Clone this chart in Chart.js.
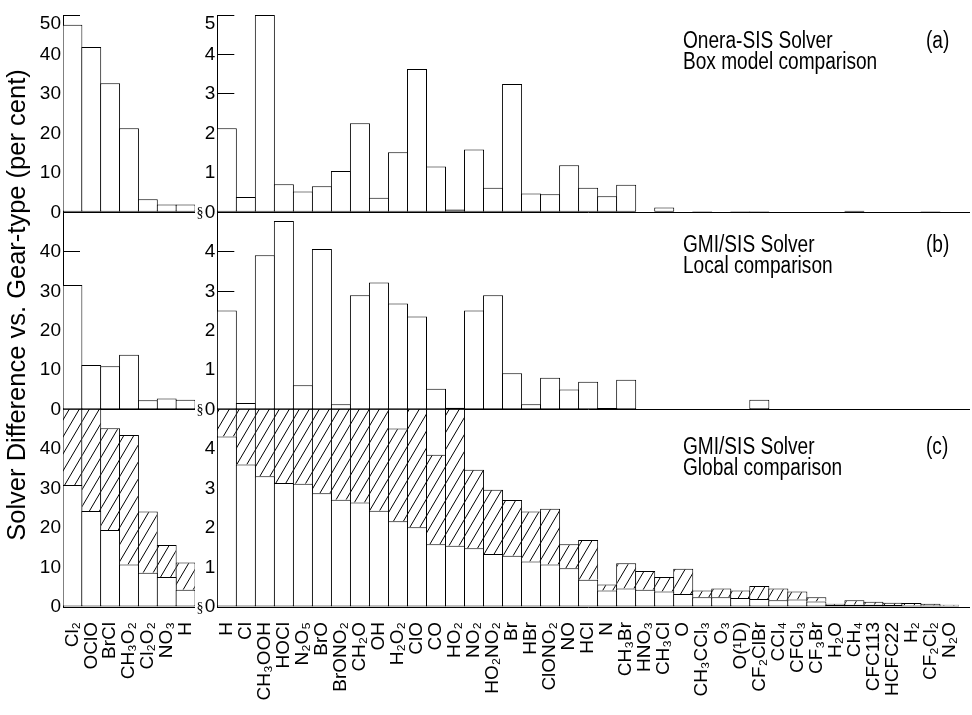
<!DOCTYPE html>
<html>
<head>
<meta charset="utf-8">
<script src="https://cdn.jsdelivr.net/npm/chart.js@4.4.1/dist/chart.umd.min.js"></script>
<style>
  html,body{margin:0;padding:0;background:#fff;}
  body{width:972px;height:715px;position:relative;overflow:hidden;font-family:'Liberation Sans',Arial,sans-serif;color:#000;}
  canvas{position:absolute;top:0;}
  #cLeft{left:0;}
  #cRight{left:190px;}
  .ann{position:absolute;font-family:'Liberation Sans',Arial,sans-serif;font-size:23px;line-height:21px;white-space:nowrap;transform:scaleX(0.83);transform-origin:0 0;}
  #ytitle{position:absolute;width:600px;height:28px;left:-284px;top:290.5px;font-size:25.5px;line-height:28px;text-align:center;white-space:nowrap;transform:rotate(-90deg);transform-origin:50% 50%;}
</style>
</head>
<body>
<canvas id="cLeft" width="200" height="715"></canvas>
<canvas id="cRight" width="782" height="715"></canvas>
<div id="ytitle"></div>
<div id="anns"></div>
<script>
// ---------------- DATA ----------------
const leftSpecies = ['Cl₂','OClO','BrCl','CH₃O₂','Cl₂O₂','NO₃','H'];
const rightSpecies = ['H','Cl','CH₃OOH','HOCl','N₂O₅','BrO','BrONO₂','CH₂O','OH','H₂O₂','ClO','CO','HO₂','NO₂','HO₂NO₂','Br','HBr','ClONO₂','NO','HCl','N','CH₃Br','HNO₃','CH₃Cl','O','CH₃CCl₃','O₃','O(¹D)','CF₂ClBr','CCl₄','CFCl₃','CF₃Br','H₂O','CH₄','CFC113','HCFC22','H₂','CF₂Cl₂','N₂O'];

// (a) Onera-SIS solver, box model comparison
const leftBoxModel  = [47.5, 41.9, 32.7, 21.3, 3.3, 2.0, 2.0];
const rightBoxModel = [2.13,0.39,5.0,0.71,0.53,0.66,1.05,2.26,0.37,1.52,3.63,1.16,0.07,1.59,0.62,3.25,0.48,0.46,1.19,0.62,0.41,0.70,0,0.12,0,0.03,0,0.03,0.03,0,0,0,0,0.04,0,0,0,0.03,0];

// (b) GMI/SIS solver, local comparison
const leftLocal  = [31.6, 11.3, 11.0, 13.9, 2.4, 2.8, 2.5];
const rightLocal = [2.51,0.17,3.91,4.78,0.62,4.07,0.14,2.90,3.22,2.69,2.36,0.53,0.05,2.51,2.90,0.92,0.14,0.81,0.51,0.71,0.04,0.76,0,0,0,0,0,0.02,0.25,0,0,0,0,0,0,0,0,0,0];

// (c) GMI/SIS solver, global comparison (open part, hatched top, extra open box)
const leftGlobalLow   = [30.9, 24.3, 19.5, 10.8, 8.7, 7.6, 4.4];
const leftGlobalHigh  = [56, 54, 45.3, 43.6, 24.2, 15.7, 11.3];
const rightGlobalLow  = [4.32,3.61,3.31,3.14,3.12,2.88,2.72,2.65,2.44,2.17,2.02,1.59,1.55,1.49,1.34,1.30,1.15,1.08,0.98,0.69,0.42,0.47,0.44,0.39,0.33,0.25,0.25,0.23,0.20,0.17,0.19,0.14,0.05,0.06,0.06,0.05,0.04,0.04,0.03];
const rightGlobalHigh = [6.0,5.8,5.7,5.6,5.5,5.5,5.4,5.4,5.3,4.52,5.3,3.86,5.2,3.48,2.97,2.71,2.42,2.49,1.59,1.70,0.57,1.11,0.91,0.76,0.97,0.42,0.47,0.42,0.53,0.47,0.39,0.25,0.08,0.17,0.13,0.11,0.10,0.08,0.06];
const rightGlobalOuter = [null,null,null,null,null,null,null,null,null,5.3,null,5.3,null,null,null,null,null,null,null,null,null,null,null,null,null,null,null,null,null,null,null,null,null,null,null,null,null,null,null];

const leftTicks  = [0, 10, 20, 30, 40, 50];
const rightTicks = [0, 1, 2, 3, 4, 5];

const yTitle = 'Solver Difference vs. Gear-type (per cent)';
const panelTitles = [['Onera-SIS Solver','Box model comparison'],['GMI/SIS Solver','Local comparison'],['GMI/SIS Solver','Global comparison']];
const panelTags = ['(a)','(b)','(c)'];

// ---------------- RENDER ----------------
Chart.defaults.color = '#000';
Chart.defaults.font.family = "'Liberation Sans', Arial, sans-serif";

document.getElementById('ytitle').textContent = yTitle;
const annTops = [30, 234, 436];
const anns = document.getElementById('anns');
panelTitles.forEach((lines, i) => {
  const d = document.createElement('div');
  d.className = 'ann';
  d.style.left = '683px'; d.style.top = annTops[i] + 'px';
  d.innerHTML = lines.join('<br>');
  anns.appendChild(d);
  const t = document.createElement('div');
  t.className = 'ann';
  t.style.left = '926px'; t.style.top = annTops[i] + 'px';
  t.textContent = panelTags[i];
  anns.appendChild(t);
});

function makeHatch(ctx) {
  const c = document.createElement('canvas');
  c.width = 10; c.height = 17;
  const g = c.getContext('2d');
  g.fillStyle = '#fff'; g.fillRect(0, 0, 10, 17);
  g.strokeStyle = '#000'; g.lineWidth = 1;
  g.beginPath();
  g.moveTo(0, 17); g.lineTo(10, 0);
  g.moveTo(-10, 17); g.lineTo(0, 0);
  g.moveTo(10, 17); g.lineTo(20, 0);
  g.stroke();
  return ctx.createPattern(c, 'repeat');
}

const panelClip = {
  id: 'panelClip',
  beforeDatasetDraw(chart, args) {
    const s = chart.scales[args.meta.yAxisID];
    const a = chart.chartArea;
    const ctx = chart.ctx;
    ctx.save();
    ctx.beginPath();
    ctx.rect(a.left - 2, s.top - 0.5, a.right - a.left + 4, s.bottom - s.top + 1);
    ctx.clip();
  },
  afterDatasetDraw(chart) { chart.ctx.restore(); }
};

function breakMarks(show) {
  return {
    id: 'breakMarks',
    afterDraw(chart) {
      if (!show) return;
      const ctx = chart.ctx;
      const a = chart.chartArea;
      ctx.save();
      ctx.fillStyle = '#000';
      ctx.strokeStyle = '#000';
      ctx.lineWidth = 1;
      ctx.font = "14px 'Liberation Serif', serif";
      ctx.textAlign = 'center';
      ctx.textBaseline = 'middle';
      ['ya', 'yb', 'yc'].forEach(id => {
        const s = chart.scales[id];
        const y0 = s.getPixelForValue(0);
        ctx.fillText('§', s.left + 10, y0 + 1);
        // zero line continues a little past the last bar, as in the figure
        const yy = Math.round(y0 - 0.5) + 0.5;
        ctx.beginPath();
        ctx.moveTo(a.right, yy);
        ctx.lineTo(chart.width - 2, yy);
        ctx.stroke();
      });
      ctx.restore();
    }
  };
}

function noPad(s) { s.paddingLeft = 0; s.paddingRight = 0; s.paddingTop = 0; s.paddingBottom = 0; }

function yAxis(weight, max, tickVals, showTop, width) {
  return {
    type: 'linear', position: 'left', stack: 'panels', stackWeight: 1, weight: weight, z: 1,
    min: 0, max: max,
    afterBuildTicks(s) { s.ticks = tickVals.map(v => ({value: v})); },
    afterFit(s) { s.width = width; noPad(s); },
    border: {display: true, color: '#000', width: 1},
    grid: {
      drawOnChartArea: true, drawTicks: true, tickLength: -17, tickWidth: 1, tickColor: '#000', lineWidth: 1,
      color: c => (c.tick && c.tick.value === 0) ? '#000' : 'rgba(0,0,0,0)'
    },
    ticks: {autoSkip: false, padding: 19, font: {size: 19, lineHeight: 0.9}, color: '#000',
      callback: v => (v === max) ? (showTop ? ['', String(v)] : '') : String(v)}
  };
}

function buildChart(id, labels, a, b, cLow, cHigh, cOuter, ticks, axisWidth, padRight, showBreaks) {
  const canvas = document.getElementById(id);
  const ctx = canvas.getContext('2d');
  const hatch = makeHatch(ctx);
  const max = ticks[ticks.length - 1];
  const base = {borderColor: '#000', borderSkipped: false, grouped: false, barPercentage: 1.053, categoryPercentage: 1};
  const datasets = [
    Object.assign({}, base, {label: 'a', data: a, yAxisID: 'ya', backgroundColor: '#fff', borderWidth: 1}),
    Object.assign({}, base, {label: 'b', data: b, yAxisID: 'yb', backgroundColor: '#fff', borderWidth: 1}),
    Object.assign({}, base, {label: 'c-low', data: cLow.map(v => [0, v]), yAxisID: 'yc', backgroundColor: '#fff', borderWidth: 1}),
    Object.assign({}, base, {label: 'c-high', data: cHigh.map((v, i) => [cLow[i], v]), yAxisID: 'yc', backgroundColor: hatch,
      borderWidth: {top: 1, left: 1, right: 1, bottom: 0}})
  ];
  if (cOuter) {
    datasets.push(Object.assign({}, base, {label: 'c-outer', data: cOuter.map((v, i) => v == null ? null : [cHigh[i], v]),
      yAxisID: 'yc', backgroundColor: '#fff', borderWidth: {top: 1, left: 1, right: 1, bottom: 0}}));
  }
  return new Chart(ctx, {
    type: 'bar',
    data: {labels: labels, datasets: datasets},
    options: {
      responsive: false, animation: false, devicePixelRatio: 1,
      layout: {padding: {top: 15, right: padRight, left: 0, bottom: 0}, autoPadding: false},
      plugins: {legend: {display: false}, tooltip: {enabled: false}},
      scales: {
        x: {
          type: 'category', position: 'bottom', offset: true,
          afterFit(s) { s.height = 108; noPad(s); },
          grid: {display: false, drawTicks: false},
          border: {display: false},
          ticks: {autoSkip: false, minRotation: 90, maxRotation: 90, padding: 15, font: {size: 19}, color: '#000'}
        },
        ya: yAxis(3, max, ticks, true, axisWidth),
        yb: yAxis(2, max, ticks, false, axisWidth),
        yc: yAxis(1, max, ticks, false, axisWidth)
      }
    },
    plugins: [panelClip, breakMarks(showBreaks)]
  });
}

buildChart('cLeft', leftSpecies, leftBoxModel, leftLocal, leftGlobalLow, leftGlobalHigh, null, leftTicks, 63, 5, false);
buildChart('cRight', rightSpecies, rightBoxModel, rightLocal, rightGlobalLow, rightGlobalHigh, rightGlobalOuter, rightTicks, 27.3, 13, true);
</script>
</body>
</html>
